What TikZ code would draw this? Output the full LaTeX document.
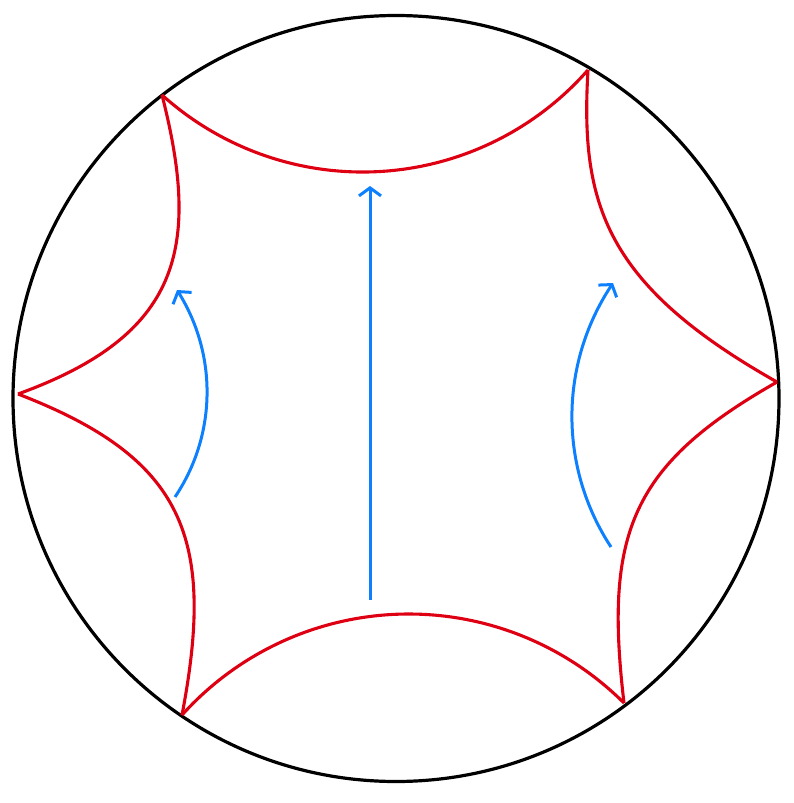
\documentclass[tikz,border=0pt]{standalone}
\usetikzlibrary{arrows.meta}
\definecolor{geored}{RGB}{222,0,18}
\definecolor{arrblue}{RGB}{12,128,255}
\tikzset{
  disk/.style={line width=3.2pt, black},
  geod/.style={line width=3.1pt, geored, line join=round},
  flow/.style={line width=3pt, arrblue, -{Straight Barb[length=8pt,width=22pt,line width=3pt]}}
}
% circular arc from A through M to B (pixel coordinates)
\newcommand{\tharc}[7]{%
  \pgfmathsetmacro\Ax{#2/100}\pgfmathsetmacro\Ay{#3/100}%
  \pgfmathsetmacro\Mx{#4/100}\pgfmathsetmacro\My{#5/100}%
  \pgfmathsetmacro\Bx{#6/100}\pgfmathsetmacro\By{#7/100}%
  \pgfmathsetmacro\dd{2*(\Ax*(\My-\By)+\Mx*(\By-\Ay)+\Bx*(\Ay-\My))}%
  \pgfmathsetmacro\Ux{((\Ax*\Ax+\Ay*\Ay)*(\My-\By)+(\Mx*\Mx+\My*\My)*(\By-\Ay)+(\Bx*\Bx+\By*\By)*(\Ay-\My))/\dd}%
  \pgfmathsetmacro\Uy{((\Ax*\Ax+\Ay*\Ay)*(\Bx-\Mx)+(\Mx*\Mx+\My*\My)*(\Ax-\Bx)+(\Bx*\Bx+\By*\By)*(\Mx-\Ax))/\dd}%
  \pgfmathsetmacro\Rr{sqrt((\Ax-\Ux)*(\Ax-\Ux)+(\Ay-\Uy)*(\Ay-\Uy))}%
  \pgfmathsetmacro\aA{atan2(\Ay-\Uy,\Ax-\Ux)}%
  \pgfmathsetmacro\aM{atan2(\My-\Uy,\Mx-\Ux)}%
  \pgfmathsetmacro\aB{atan2(\By-\Uy,\Bx-\Ux)}%
  \pgfmathsetmacro\dM{mod(\aM-\aA+720,360)}%
  \pgfmathsetmacro\dB{mod(\aB-\aA+720,360)}%
  \pgfmathsetmacro\aE{\dM<\dB ? \aA+\dB : \aA+\dB-360}%
  \draw[#1] plot[domain=\aA:\aE, samples=150, variable=\t] ({100*(\Ux+\Rr*cos(\t))},{100*(\Uy+\Rr*sin(\t))});%
}
\begin{document}
\begin{tikzpicture}[x=1pt,y=-1pt]
\useasboundingbox (0,0) rectangle (793,803);
\coordinate (O) at (396,398.5);
\coordinate (P1) at (162,95);
\coordinate (P2) at (588,70);
\coordinate (P3) at (777,382);
\coordinate (P4) at (624,703);
\coordinate (P5) at (182,715);
\coordinate (P6) at (18,394);
\draw[disk] (O) circle[radius=383];
% hexagon sides
\tharc{geod}{162}{95}{367}{172}{588}{70}
\draw[geod] (P2) .. controls (580,204) and (605,285) .. (P3);
\draw[geod] (P3) .. controls (631,465) and (604,533) .. (P4);
\tharc{geod}{624}{703}{407}{614}{182}{715}
\draw[geod] (P5) .. controls (216,537) and (184,458) .. (P6);
\draw[geod] (P6) .. controls (181,335) and (201,248) .. (P1);
% flows
\coordinate (a0) at (370,600);
\coordinate (a1) at (370,186);
\draw[flow] (a0) -- (a1);
\tharc{flow}{175}{497}{207}{397}{177}{290}
\tharc{flow}{611}{547}{572}{410}{613}{283}
\end{tikzpicture}
\end{document}
